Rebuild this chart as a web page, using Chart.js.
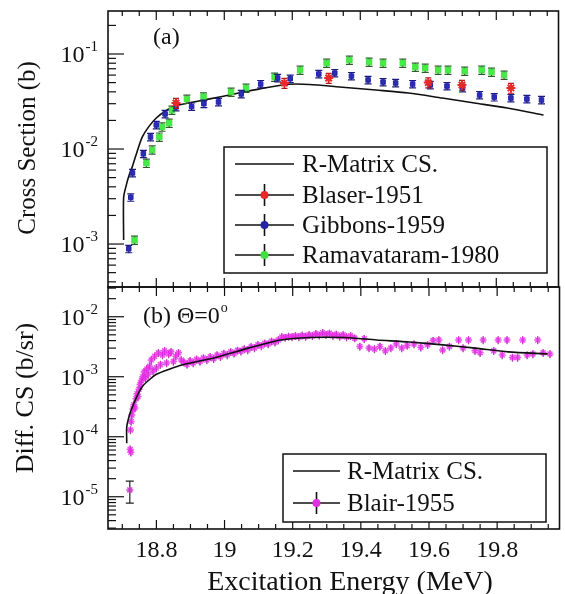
<!doctype html>
<html>
<head>
<title>R-Matrix cross sections</title>
<script src="https://cdn.jsdelivr.net/npm/chart.js@4.4.1/dist/chart.umd.min.js"></script>
<style>
body { margin: 0; background: #fff; }
#wrap { position: relative; width: 565px; height: 594px; }
#wrap canvas { position: absolute; left: 0; top: 0; }
</style>
</head>
<body>
<div id="wrap">
  <canvas id="top-chart" width="565" height="594"></canvas>
  <canvas id="bottom-chart" width="565" height="594"></canvas>
</div>
<script>
// ---- panel (a): cross section ----
var rmTopX = [18.704, 18.704, 18.712, 18.720, 18.730, 18.744, 18.759, 18.778, 18.800, 18.826, 18.858, 18.925, 18.990, 19.060, 19.120, 19.190, 19.250, 19.339, 19.446, 19.542, 19.641, 19.736, 19.832, 19.939];
var rmTopY = [0.0011, 0.0031, 0.0042, 0.0053, 0.0066, 0.0095, 0.0134, 0.0172, 0.0212, 0.0250, 0.0285, 0.0320, 0.0355, 0.0400, 0.0440, 0.0480, 0.0478, 0.0450, 0.0418, 0.0389, 0.0344, 0.0305, 0.0270, 0.0228];

var blaserX = [18.858, 19.177, 19.307, 19.600, 19.699, 19.843];
var blaserY = [0.0305, 0.0495, 0.0559, 0.0500, 0.0472, 0.0439];

var gibbonsX = [18.719, 18.725, 18.730, 18.762, 18.783, 18.800, 18.826, 18.858, 18.904, 18.940, 18.983, 19.050, 19.107, 19.157, 19.194, 19.278, 19.325, 19.374, 19.423, 19.467, 19.504, 19.554, 19.606, 19.655, 19.701, 19.751, 19.794, 19.843, 19.890, 19.933];
var gibbonsY = [0.00089, 0.0031, 0.0056, 0.0089, 0.0134, 0.0179, 0.0234, 0.0277, 0.0280, 0.0300, 0.0313, 0.0380, 0.0483, 0.0559, 0.0550, 0.0616, 0.0630, 0.0586, 0.0533, 0.0507, 0.0495, 0.0483, 0.0472, 0.0460, 0.0439, 0.0370, 0.0352, 0.0344, 0.0336, 0.0328];

var ramaX = [18.736, 18.771, 18.788, 18.809, 18.817, 18.838, 18.846, 18.890, 18.939, 19.020, 19.064, 19.148, 19.223, 19.301, 19.368, 19.426, 19.467, 19.525, 19.562, 19.591, 19.629, 19.658, 19.707, 19.757, 19.786, 19.823];
var ramaY = [0.0011, 0.0071, 0.0098, 0.0134, 0.0171, 0.0188, 0.0257, 0.0335, 0.0355, 0.0398, 0.0439, 0.0573, 0.0679, 0.0804, 0.0865, 0.0824, 0.0804, 0.0804, 0.0730, 0.0712, 0.0679, 0.0679, 0.0662, 0.0679, 0.0647, 0.0601];

// ---- panel (b): differential cross section at 0 deg ----
var rmBotX = [18.713, 18.713, 18.720, 18.730, 18.745, 18.760, 18.780, 18.800, 18.840, 18.875, 18.974, 19.070, 19.165, 19.250, 19.351, 19.446, 19.542, 19.641, 19.736, 19.832, 19.948];
var rmBotY = [7.8e-5, 1.45e-4, 2.2e-4, 3.2e-4, 5.0e-4, 7.0e-4, 9.0e-4, 1.1e-3, 1.35e-3, 1.57e-3, 2.1e-3, 3.0e-3, 4.1e-3, 4.5e-3, 4.5e-3, 4.1e-3, 3.8e-3, 3.4e-3, 3.0e-3, 2.6e-3, 2.4e-3];

var blairX = [18.723, 18.725, 18.724, 18.726, 18.728, 18.731, 18.734, 18.737, 18.740, 18.743, 18.746, 18.749, 18.752, 18.756, 18.760, 18.764, 18.768, 18.772, 18.776, 18.780, 18.785, 18.790, 18.795, 18.800, 18.806, 18.812, 18.818, 18.824, 18.830, 18.836, 18.843, 18.850, 18.857, 18.865, 18.873, 18.881, 18.890, 18.899, 18.908, 18.918, 18.928, 18.938, 18.948, 18.958, 18.968, 18.978, 18.988, 18.998, 19.008, 19.018, 19.028, 19.038, 19.048, 19.058, 19.068, 19.078, 19.088, 19.098, 19.108, 19.118, 19.128, 19.138, 19.148, 19.158, 19.168, 19.178, 19.188, 19.198, 19.208, 19.218, 19.228, 19.238, 19.248, 19.258, 19.268, 19.278, 19.288, 19.298, 19.308, 19.318, 19.328, 19.338, 19.348, 19.358, 19.370, 19.382, 19.397, 19.410, 19.424, 19.440, 19.456, 19.472, 19.488, 19.504, 19.520, 19.536, 19.556, 19.576, 19.596, 19.612, 19.629, 19.640, 19.660, 19.687, 19.700, 19.716, 19.735, 19.750, 19.759, 19.790, 19.803, 19.815, 19.829, 19.845, 19.860, 19.875, 19.888, 19.905, 19.919, 19.935, 19.955];
var blairY = [6.2e-5, 5.5e-5, 1.3e-4, 1.8e-4, 2.3e-4, 2.9e-4, 3.4e-4, 3.0e-4, 4.3e-4, 5.2e-4, 4.7e-4, 6.2e-4, 7.4e-4, 8.6e-4, 1.0e-3, 1.2e-3, 9.5e-4, 1.35e-3, 1.1e-3, 1.5e-3, 1.9e-3, 1.25e-3, 2.2e-3, 1.4e-3, 2.5e-3, 1.6e-3, 2.3e-3, 2.7e-3, 1.7e-3, 2.4e-3, 2.6e-3, 1.8e-3, 2.2e-3, 2.5e-3, 1.9e-3, 1.75e-3, 1.6e-3, 1.85e-3, 1.7e-3, 1.95e-3, 1.8e-3, 2.05e-3, 1.9e-3, 2.15e-3, 2.0e-3, 2.3e-3, 2.15e-3, 2.45e-3, 2.3e-3, 2.6e-3, 2.45e-3, 2.75e-3, 2.65e-3, 2.9e-3, 2.8e-3, 3.15e-3, 3.0e-3, 3.4e-3, 3.25e-3, 3.6e-3, 3.5e-3, 3.9e-3, 3.75e-3, 4.1e-3, 4.6e-3, 4.5e-3, 4.7e-3, 4.6e-3, 4.8e-3, 4.6e-3, 4.9e-3, 4.7e-3, 5.0e-3, 4.8e-3, 5.2e-3, 4.9e-3, 5.4e-3, 5.0e-3, 5.3e-3, 4.8e-3, 5.1e-3, 4.7e-3, 5.0e-3, 4.6e-3, 4.8e-3, 4.4e-3, 3.2e-3, 4.3e-3, 3.0e-3, 2.9e-3, 3.2e-3, 2.7e-3, 3.0e-3, 3.5e-3, 3.0e-3, 3.3e-3, 3.5e-3, 3.1e-3, 3.4e-3, 4.0e-3, 4.1e-3, 2.8e-3, 3.2e-3, 4.1e-3, 3.0e-3, 4.1e-3, 2.7e-3, 2.5e-3, 4.1e-3, 2.7e-3, 4.1e-3, 2.3e-3, 4.1e-3, 2.1e-3, 2.1e-3, 4.1e-3, 2.3e-3, 2.4e-3, 4.1e-3, 2.5e-3, 2.4e-3];
// lowest Blair point, large error bar
var blairLowX = [18.722];
var blairLowY = [1.3e-5];

var xRange = [18.658, 19.983];
var topRange = [3.53e-4, 0.2836];
var botRange = [2.9e-6, 0.0313];

var SERIF = '"Liberation Serif", "Times New Roman", serif';

function pts(xs, ys) {
  return xs.map(function (x, i) { return { x: x, y: ys[i] }; });
}

// frame, inward ticks, tick labels, legend and free text
var decor = {
  id: 'decor',
  beforeDatasetDraw: function (chart, args) {
    var ds = chart.data.datasets[args.index];
    if (!ds.errFrac) return;
    var ctx = chart.ctx, a = chart.chartArea, ys = chart.scales.y;
    ctx.save();
    ctx.beginPath();
    ctx.rect(a.left, a.top, a.right - a.left, a.bottom - a.top);
    ctx.clip();
    ctx.strokeStyle = ds.errColor;
    ctx.lineWidth = 1.2;
    args.meta.data.forEach(function (el, i) {
      var v = ds.data[i].y;
      var y1 = ys.getPixelForValue(v * (1 + ds.errFrac));
      var y2 = ys.getPixelForValue(v * (1 - ds.errFrac));
      var c = ds.errCap;
      ctx.beginPath();
      ctx.moveTo(el.x, y1); ctx.lineTo(el.x, y2);
      if (c) {
        ctx.moveTo(el.x - c, y1); ctx.lineTo(el.x + c, y1);
        ctx.moveTo(el.x - c, y2); ctx.lineTo(el.x + c, y2);
      }
      ctx.stroke();
    });
    ctx.restore();
  },
  afterDraw: function (chart, args, o) {
    var ctx = chart.ctx, a = chart.chartArea;
    var xs = chart.scales.x, ys = chart.scales.y;
    ctx.save();
    ctx.strokeStyle = '#111';
    ctx.fillStyle = '#111';
    ctx.lineWidth = 1.6;
    ctx.strokeRect(a.left, a.top, a.right - a.left, a.bottom - a.top);

    // x ticks: minor every 0.05, major every 0.2
    ctx.lineWidth = 1.2;
    ctx.font = '24px ' + SERIF;
    ctx.textAlign = 'center';
    ctx.textBaseline = 'alphabetic';
    for (var k = Math.ceil(xs.min * 20); k <= Math.floor(xs.max * 20); k++) {
      var px = xs.getPixelForValue(k / 20);
      var len = (k % 4 === 0) ? 9 : 5;
      ctx.beginPath();
      ctx.moveTo(px, a.bottom); ctx.lineTo(px, a.bottom - len);
      ctx.moveTo(px, a.top); ctx.lineTo(px, a.top + len);
      ctx.stroke();
      if (o.xLabels && k % 4 === 0) ctx.fillText(String(k / 20), px, a.bottom + 28);
    }

    // log y ticks
    var e0 = Math.floor(Math.log10(ys.min)), e1 = Math.ceil(Math.log10(ys.max));
    for (var e = e0; e <= e1; e++) {
      for (var m = 1; m <= 9; m++) {
        var v = m * Math.pow(10, e);
        if (v < ys.min || v > ys.max) continue;
        var py = ys.getPixelForValue(v);
        ctx.beginPath();
        ctx.moveTo(a.left, py); ctx.lineTo(a.left + (m === 1 ? 16 : 8), py);
        ctx.stroke();
        if (m === 1) {
          var ex = String(e);
          ctx.font = '15px ' + SERIF;
          var ew = ctx.measureText(ex).width;
          ctx.textAlign = 'left';
          ctx.fillText(ex, a.left - 10 - ew, py - 3);
          ctx.font = '24px ' + SERIF;
          ctx.textAlign = 'right';
          ctx.fillText('10', a.left - 11 - ew, py + 8);
        }
      }
    }

    // legend
    var lg = o.legend;
    ctx.lineWidth = 1.5;
    ctx.fillStyle = '#fff';
    ctx.fillRect(lg.box[0], lg.box[1], lg.box[2] - lg.box[0], lg.box[3] - lg.box[1]);
    ctx.strokeRect(lg.box[0], lg.box[1], lg.box[2] - lg.box[0], lg.box[3] - lg.box[1]);
    ctx.font = '25px ' + SERIF;
    ctx.textAlign = 'left';
    ctx.textBaseline = 'middle';
    lg.rows.forEach(function (r) {
      ctx.strokeStyle = '#111';
      ctx.lineWidth = 1.6;
      ctx.beginPath();
      ctx.moveTo(lg.line[0], r.y); ctx.lineTo(lg.line[1], r.y);
      ctx.stroke();
      if (r.color) {
        var mx = (lg.line[0] + lg.line[1]) / 2;
        ctx.beginPath();
        ctx.moveTo(mx, r.y - 11); ctx.lineTo(mx, r.y + 11);
        ctx.stroke();
        ctx.fillStyle = r.color;
        ctx.beginPath();
        ctx.arc(mx, r.y, 4, 0, Math.PI * 2);
        ctx.fill();
      }
      ctx.fillStyle = '#111';
      ctx.fillText(r.label, lg.textX, r.y + 1);
    });

    // free text (panel tags, axis titles)
    ctx.textBaseline = 'alphabetic';
    o.texts.forEach(function (t) {
      ctx.save();
      ctx.fillStyle = '#111';
      ctx.font = t.size + 'px ' + SERIF;
      ctx.textAlign = t.align || 'left';
      ctx.translate(t.x, t.y);
      if (t.rot) ctx.rotate(t.rot);
      ctx.fillText(t.text, 0, 0);
      if (t.sup) {
        var w = ctx.measureText(t.text).width;
        ctx.font = '14px ' + SERIF;
        ctx.fillText(t.sup, w + 1, -11);
      }
      ctx.restore();
    });
    ctx.restore();
  }
};

function makeOptions(yRange, pad, decorOpts) {
  return {
    responsive: false,
    animation: false,
    devicePixelRatio: 1,
    layout: { padding: pad },
    scales: {
      x: { type: 'linear', min: xRange[0], max: xRange[1], bounds: 'data', display: false },
      y: { type: 'logarithmic', min: yRange[0], max: yRange[1], bounds: 'data', display: false }
    },
    plugins: { legend: { display: false }, tooltip: { enabled: false }, decor: decorOpts }
  };
}

new Chart(document.getElementById('top-chart'), {
  type: 'scatter',
  plugins: [decor],
  data: {
    datasets: [
      { label: 'Blaser-1951', data: pts(blaserX, blaserY), pointStyle: 'star', pointRadius: 4.5,
        borderColor: '#e52a2a', backgroundColor: '#e52a2a', borderWidth: 2, order: 1,
        errFrac: 0.12, errColor: '#b01818', errCap: 3 },
      { label: 'Gibbons-1959', data: pts(gibbonsX, gibbonsY), pointStyle: 'rect', pointRadius: 3.2,
        borderColor: '#2424a8', backgroundColor: '#2c2cb4', borderWidth: 1, order: 2,
        errFrac: 0.09, errColor: '#1a1a80', errCap: 3.5 },
      { label: 'Ramavataram-1980', data: pts(ramaX, ramaY), pointStyle: 'rect', pointRadius: 3.8,
        borderColor: '#3fe03f', backgroundColor: '#45ec45', borderWidth: 1, order: 3,
        errFrac: 0.1, errColor: '#2b5a2b', errCap: 3.5 },
      { label: 'R-Matrix CS.', data: pts(rmTopX, rmTopY), showLine: true, pointRadius: 0,
        borderColor: '#111', borderWidth: 1.6, tension: 0.25, order: 4 }
    ]
  },
  options: makeOptions(topRange, { left: 108, top: 11, right: 0, bottom: 307 }, {
    xLabels: false,
    legend: {
      box: [224, 147, 547, 273], line: [235, 294], textX: 302,
      rows: [
        { label: 'R-Matrix CS.', y: 164 },
        { label: 'Blaser-1951', y: 195, color: '#e52a2a' },
        { label: 'Gibbons-1959', y: 225, color: '#2424a8' },
        { label: 'Ramavataram-1980', y: 255, color: '#3fe03f' }
      ]
    },
    texts: [
      { text: '(a)', x: 153, y: 44, size: 24 },
      { text: 'Cross Section (b)', x: 35, y: 148, size: 25, align: 'center', rot: -Math.PI / 2 }
    ]
  })
});

new Chart(document.getElementById('bottom-chart'), {
  type: 'scatter',
  plugins: [decor],
  data: {
    datasets: [
      { label: 'R-Matrix CS.', data: pts(rmBotX, rmBotY), showLine: true, pointRadius: 0,
        borderColor: '#111', borderWidth: 1.6, tension: 0.25, order: 1 },
      { label: 'Blair-1955', data: pts(blairX, blairY), pointStyle: 'star', pointRadius: 3.5,
        borderColor: 'rgba(232,40,232,0.8)', backgroundColor: 'rgba(232,40,232,0.8)', borderWidth: 1.5, order: 2,
        errFrac: 0.15, errColor: 'rgba(110,40,110,0.8)', errCap: 0 },
      { label: 'Blair-1955 low', data: pts(blairLowX, blairLowY), pointStyle: 'star', pointRadius: 3.5,
        borderColor: 'rgba(200,60,200,0.9)', borderWidth: 1.5, order: 3,
        errFrac: 0.4, errColor: '#222', errCap: 4 }
    ]
  },
  options: makeOptions(botRange, { left: 108, top: 287, right: 0, bottom: 65 }, {
    xLabels: true,
    legend: {
      box: [283, 454, 546, 522], line: [293, 340], textX: 347,
      rows: [
        { label: 'R-Matrix CS.', y: 471 },
        { label: 'Blair-1955', y: 503, color: '#e030e0' }
      ]
    },
    texts: [
      { text: '(b) \u0398=0', x: 143, y: 323, size: 24, sup: 'o' },
      { text: 'Diff. CS (b/sr)', x: 33, y: 398, size: 26, align: 'center', rot: -Math.PI / 2 },
      { text: 'Excitation Energy (MeV)', x: 350, y: 590, size: 28, align: 'center' }
    ]
  })
});
</script>
</body>
</html>
